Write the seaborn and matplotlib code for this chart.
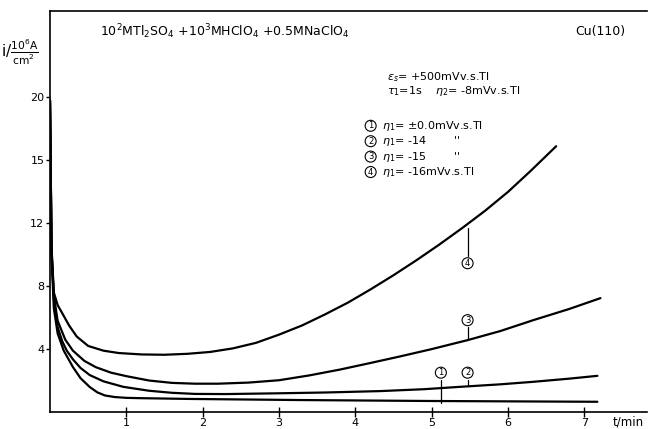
import matplotlib
matplotlib.use("Agg")
import matplotlib.pyplot as plt
import pandas as pd
import seaborn as sns

# values: t in min, i in 10^-6 A/cm^2
t1 = [0.0, 0.02, 0.05, 0.10, 0.18, 0.30, 0.40, 0.52, 0.62, 0.72, 0.85, 1.00,
      1.18, 1.83, 3.28, 4.98, 7.17]
i1 = [19.8, 10.0, 6.6, 5.0, 3.9, 2.86, 2.15, 1.59, 1.25, 1.05, 0.95, 0.90,
      0.88, 0.83, 0.76, 0.70, 0.65]

t2 = [0.0, 0.02, 0.05, 0.10, 0.16, 0.22, 0.30, 0.40, 0.52, 0.70, 0.96, 1.30,
      1.60, 1.90, 2.30, 3.00, 3.60, 4.33, 4.90, 5.37, 5.90, 6.33, 6.80, 7.17]
i2 = [19.8, 10.2, 7.2, 5.4, 4.5, 3.9, 3.35, 2.8, 2.35, 1.95, 1.6, 1.35,
      1.22, 1.15, 1.14, 1.19, 1.24, 1.33, 1.45, 1.60, 1.76, 1.92, 2.12, 2.30]

t3 = [0.0, 0.02, 0.05, 0.10, 0.20, 0.30, 0.45, 0.60, 0.80, 1.00, 1.30, 1.60,
      1.90, 2.20, 2.60, 3.00, 3.40, 3.80, 4.20, 4.60, 5.00, 5.47, 5.90, 6.33,
      6.80, 7.21]
i3 = [19.8, 10.3, 7.4, 5.8, 4.6, 3.9, 3.25, 2.85, 2.5, 2.28, 2.0, 1.85,
      1.8, 1.8, 1.87, 2.02, 2.33, 2.7, 3.12, 3.55, 4.0, 4.57, 5.15, 5.84,
      6.55, 7.24]

t4 = [0.0, 0.02, 0.05, 0.10, 0.17, 0.25, 0.35, 0.50, 0.70, 0.90, 1.20, 1.50,
      1.80, 2.10, 2.40, 2.70, 3.00, 3.30, 3.60, 3.90, 4.20, 4.50, 4.80, 5.10,
      5.40, 5.70, 6.00, 6.30, 6.63]
i4 = [19.8, 10.5, 7.6, 6.8, 6.2, 5.5, 4.8, 4.2, 3.9, 3.75, 3.66, 3.64,
      3.7, 3.82, 4.05, 4.4, 4.92, 5.5, 6.2, 6.95, 7.8, 8.7, 9.65, 10.65,
      11.7, 12.8, 14.0, 15.35, 16.9]

yticks = [4, 8, 12, 16, 20]
ytick_labels = ["4", "8", "12", "15", "20"]
xticks = [1, 2, 3, 4, 5, 6, 7]

df = pd.concat([
    pd.DataFrame({"t": t1, "i": i1, "curve": 1}),
    pd.DataFrame({"t": t2, "i": i2, "curve": 2}),
    pd.DataFrame({"t": t3, "i": i3, "curve": 3}),
    pd.DataFrame({"t": t4, "i": i4, "curve": 4}),
])

sns.set_style("ticks")
plt.rcParams["font.family"] = ["DejaVu Sans"]
plt.rcParams["text.color"] = "black"
plt.rcParams["xtick.color"] = "black"
plt.rcParams["ytick.color"] = "black"

fig = plt.figure(figsize=(6.49, 4.29), dpi=100)
ax = fig.add_axes([50 / 649, 17 / 429, 597 / 649, 401 / 429])

sns.lineplot(data=df, x="t", y="i", units="curve", estimator=None,
             color="black", lw=1.6, sort=False, ax=ax)

ax.set_xlim(0, 7.82)
ax.set_ylim(0, 25.5)
ax.set_xticks(xticks)
ax.set_xticklabels([str(x) for x in xticks], fontsize=8)
ax.set_yticks(yticks)
ax.set_yticklabels(ytick_labels, fontsize=8)
ax.tick_params(axis="x", direction="inout", length=7, width=1, pad=1)
ax.tick_params(axis="y", direction="out", length=3, width=1, pad=1)
ax.set_xlabel("")
ax.set_ylabel("")
for s in ["left", "bottom", "top"]:
    ax.spines[s].set_linewidth(1.2)
    ax.spines[s].set_color("black")
ax.spines["right"].set_visible(False)

# axis captions
fig.text(1 / 649, 1 - 52 / 429, r"i/$\frac{10^6\mathrm{A}}{\mathrm{cm}^2}$",
         fontsize=11, va="center", ha="left")
fig.text(613 / 649, 1 - 422 / 429, "t/min", fontsize=8.5, va="center", ha="left")

# header texts
ax.text(0.65, 24.2, r"$10^2$MTl$_2$SO$_4$ +$10^3$MHClO$_4$ +0.5MNaClO$_4$",
        fontsize=9, va="center", ha="left")
ax.text(6.88, 24.2, "Cu(110)", fontsize=9, va="center", ha="left")
ax.text(4.42, 21.3, r"$\epsilon_s$= +500mVv.s.Tl", fontsize=8, va="center")
ax.text(4.42, 20.4, r"$\tau_1$=1s    $\eta_2$= -8mVv.s.Tl", fontsize=8, va="center")
legend_lines = [r"$\eta_1$= ±0.0mVv.s.Tl", r"$\eta_1$= -14        ''",
                r"$\eta_1$= -15        ''", r"$\eta_1$= -16mVv.s.Tl"]
for k, txt in enumerate(legend_lines):
    y = 18.2 - k * 0.98
    ax.text(4.2, y, str(k + 1), fontsize=6, ha="center", va="center",
            bbox=dict(boxstyle="circle,pad=0.12", fc="white", ec="black", lw=0.8))
    ax.text(4.35, y, txt, fontsize=8, va="center")

# curve markers with leader lines
markers = [(1, 5.12, 2.5, 0.6), (2, 5.47, 2.5, 1.65),
           (3, 5.47, 5.84, 4.57), (4, 5.47, 9.46, 11.7)]
for n, tx, ty, ycurve in markers:
    if ycurve < ty:
        ax.plot([tx, tx], [ycurve, ty - 0.45], color="black", lw=0.9)
    else:
        ax.plot([tx, tx], [ty + 0.45, ycurve], color="black", lw=0.9)
    ax.text(tx, ty, str(n), fontsize=6, ha="center", va="center",
            bbox=dict(boxstyle="circle,pad=0.12", fc="white", ec="black", lw=0.8))

fig.savefig("out.png", dpi=100)
